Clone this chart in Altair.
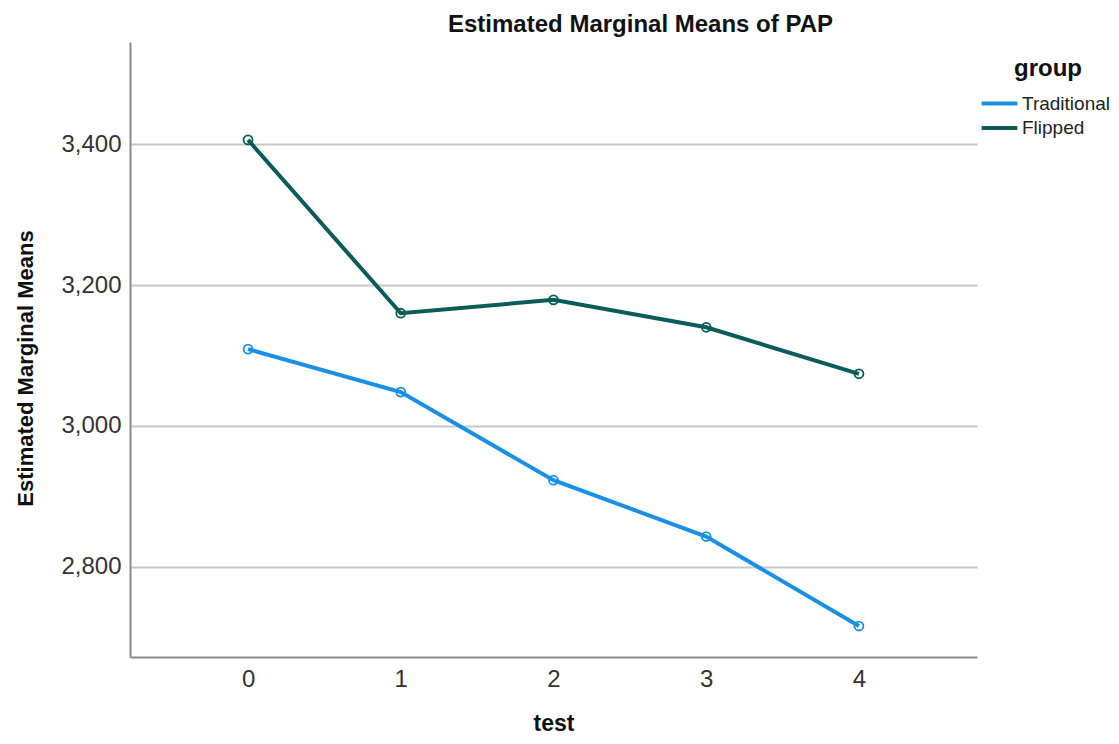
import altair as alt
import pandas as pd

tests = [0, 1, 2, 3, 4]
traditional = [3109, 3048, 2923, 2843, 2716]
flipped = [3406, 3160, 3179, 3140, 3074]
groups = ["Traditional", "Flipped"]
colors = ["#1a8fe6", "#0a5c58"]

rows = []
for t, v in zip(tests, traditional):
    rows.append({"test": t, "value": v, "group": "Traditional"})
for t, v in zip(tests, flipped):
    rows.append({"test": t, "value": v, "group": "Flipped"})
df = pd.DataFrame(rows)

FONT = "Liberation Sans"

x = alt.X("test:Q", scale=alt.Scale(domain=[-0.773, 4.773], nice=False, zero=False),
          axis=alt.Axis(values=tests, title="test", grid=False, ticks=False,
                        labelFontSize=24, labelColor="#333333", labelPadding=10,
                        labelFont=FONT, titleFont=FONT, titleFontSize=23,
                        titleFontWeight="bold", titleColor="#111111", titlePadding=21,
                        domainColor="#8a8a8a", domainWidth=2, format="d"))
y = alt.Y("value:Q", scale=alt.Scale(domain=[2672, 3545], nice=False, zero=False),
          axis=alt.Axis(values=[2800, 3000, 3200, 3400], title="Estimated Marginal Means",
                        grid=True, gridColor="#c8c8c8", gridWidth=2, ticks=False,
                        labelFontSize=24, labelColor="#333333", labelPadding=9,
                        labelFont=FONT, titleFont=FONT, titleFontSize=22,
                        titleFontWeight="bold", titleColor="#111111", titlePadding=23,
                        domainColor="#8a8a8a", domainWidth=2, format=",d", titleY=326))
color = alt.Color("group:N", scale=alt.Scale(domain=groups, range=colors),
                  legend=alt.Legend(title="group", orient="none", legendX=856, legendY=15,
                                    titleFontSize=24, titleFont=FONT, titleFontWeight="bold",
                                    titleColor="#111111", labelFontSize=19, labelFont=FONT,
                                    labelColor="#222222", symbolType="M-1.6,0L1.6,0",
                                    symbolStrokeWidth=4, symbolSize=500, rowPadding=0.6,
                                    labelOffset=9, titlePadding=9, titleAnchor="middle"))

base = alt.Chart(df)
lines = base.mark_line(strokeWidth=4).encode(x=x, y=y, color=color, detail="group:N")
points = base.mark_point(size=80, strokeWidth=1.8, filled=False, opacity=1).encode(
    x=x, y=y, color=alt.Color("group:N", scale=alt.Scale(domain=groups, range=colors), legend=None))

chart = alt.layer(lines, points).properties(
    width=847, height=615,
    title=alt.TitleParams("Estimated Marginal Means of PAP", fontSize=24, font=FONT,
                          fontWeight="bold", color="#111111", anchor="middle", dx=87, offset=5),
    padding={"left": 122, "top": 34, "right": 134, "bottom": 79},
    autosize=alt.AutoSizeParams(type="none"),
).configure_view(stroke=None)

chart.save("out.html", embed_options={"renderer": "svg", "actions": False})
